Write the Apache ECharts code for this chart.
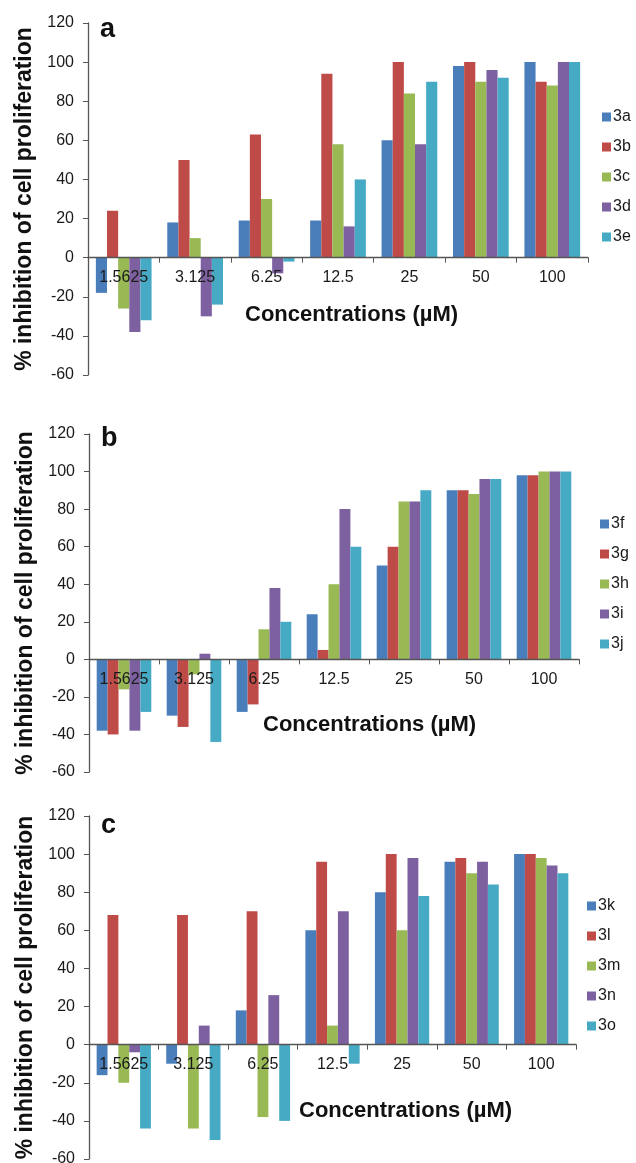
<!DOCTYPE html>
<html>
<head>
<meta http-equiv="Content-Type" content="text/html; charset=UTF-8">
<title>Inhibition of cell proliferation</title>
<script type="text/javascript" src="https://cdn.jsdelivr.net/npm/echarts@6/dist/echarts.min.js"></script>
<style>
  html, body { margin: 0; padding: 0; background: #fff; }
</style>
</head>
<body>
    <div id="main" style="width: 636px; height: 1163px;"></div>
    <script type="text/javascript">
        // concentrations (µM) on the x axis, same for every panel
        var categories = ['1.5625', '3.125', '6.25', '12.5', '25', '50', '100'];

        // panel a
        var namesA = ['3a', '3b', '3c', '3d', '3e'];
        var s3a = [-18, 18, 19, 19, 60, 98, 100];
        var s3b = [24, 50, 63, 94, 100, 100, 90];
        var s3c = [-26, 10, 30, 58, 84, 90, 88];
        var s3d = [-38, -30, -8, 16, 58, 96, 100];
        var s3e = [-32, -24, -2, 40, 90, 92, 100];

        // panel b
        var namesB = ['3f', '3g', '3h', '3i', '3j'];
        var s3f = [-38, -30, -28, 24, 50, 90, 98];
        var s3g = [-40, -36, -24, 5, 60, 90, 98];
        var s3h = [-16, -8, 16, 40, 84, 88, 100];
        var s3i = [-38, 3, 38, 80, 84, 96, 100];
        var s3j = [-28, -44, 20, 60, 90, 96, 100];

        // panel c
        var namesC = ['3k', '3l', '3m', '3n', '3o'];
        var s3k = [-16, -10, 18, 60, 80, 96, 100];
        var s3l = [68, 68, 70, 96, 100, 98, 100];
        var s3m = [-20, -44, -38, 10, 60, 90, 98];
        var s3n = [-4, 10, 26, 70, 98, 96, 94];
        var s3o = [-44, -50, -40, -10, 78, 84, 90];

        var yMin = -60, yMax = 120, yStep = 20;

        var colors = ['#4a7ebb', '#be4b48', '#98b954', '#7d60a0', '#46aac5'];
        var font = 'Liberation Sans, Arial, sans-serif';
        var axisColor = '#555';

        var panels = [
            { letter: 'a', names: namesA, data: [s3a, s3b, s3c, s3d, s3e],
              grid: { left: 88, top: 23, width: 500, height: 352 },
              legend: { left: 597, top: 104 }, xName: [357, 317], letterPos: [100, 16] },
            { letter: 'b', names: namesB, data: [s3f, s3g, s3h, s3i, s3j],
              grid: { left: 89, top: 434, width: 490, height: 338 },
              legend: { left: 595, top: 511 }, xName: [375, 727], letterPos: [101, 425] },
            { letter: 'c', names: namesC, data: [s3k, s3l, s3m, s3n, s3o],
              grid: { left: 89, top: 816, width: 487, height: 343 },
              legend: { left: 582, top: 893 }, xName: [411, 1113], letterPos: [101, 812] }
        ];

        var grids = [], xAxes = [], yAxes = [], series = [], legends = [], texts = [];

        panels.forEach(function (p, k) {
            var g = p.grid;
            grids.push({ left: g.left, top: g.top, width: g.width, height: g.height,
                         outerBoundsMode: 'none', containLabel: false });
            // lift the category axis (line, ticks and labels) up to the zero line
            var zeroLift = g.height * (0 - yMin) / (yMax - yMin);
            xAxes.push({
                type: 'category',
                gridIndex: k,
                data: categories,
                z: 10,
                offset: -zeroLift,
                axisLine: { onZero: false, lineStyle: { color: axisColor, width: 1.3 } },
                axisTick: { show: true, length: 5, lineStyle: { color: axisColor } },
                axisLabel: { margin: 12, fontSize: 16, color: '#1a1a1a', fontFamily: font }
            });
            yAxes.push({
                type: 'value',
                gridIndex: k,
                min: yMin,
                max: yMax,
                interval: yStep,
                name: '% inhibition of cell proliferation',
                nameLocation: 'middle',
                nameGap: 51,
                nameTextStyle: { fontSize: 23, fontWeight: 'bold', color: '#111', fontFamily: font },
                splitLine: { show: false },
                axisLine: { show: true, lineStyle: { color: axisColor, width: 1.3 } },
                axisTick: { show: true, length: 5, lineStyle: { color: axisColor } },
                axisLabel: { margin: 14, fontSize: 16, color: '#1a1a1a', fontFamily: font }
            });
            p.names.forEach(function (n, i) {
                series.push({
                    name: n,
                    type: 'bar',
                    xAxisIndex: k,
                    yAxisIndex: k,
                    data: p.data[i],
                    barGap: '0%',
                    barCategoryGap: '22%',
                    itemStyle: { color: colors[i] }
                });
            });
            legends.push({
                data: p.names,
                orient: 'vertical',
                left: p.legend.left,
                top: p.legend.top,
                itemWidth: 9,
                itemHeight: 9,
                itemGap: 14,
                icon: 'rect',
                textStyle: { fontSize: 16, color: '#1a1a1a', fontFamily: font, padding: [0, 0, 0, -3] }
            });
            texts.push({
                type: 'text',
                left: p.xName[0] - 112,
                top: p.xName[1] - 13,
                style: { text: 'Concentrations (\u00b5M)', font: 'bold 22px ' + font, fill: '#111' }
            });
            texts.push({
                type: 'text',
                left: p.letterPos[0],
                top: p.letterPos[1],
                style: { text: p.letter, font: 'bold 27px ' + font, fill: '#111' }
            });
        });

        var myChart = echarts.init(document.getElementById('main'));
        myChart.setOption({
            animation: false,
            color: colors,
            grid: grids,
            xAxis: xAxes,
            yAxis: yAxes,
            legend: legends,
            series: series,
            graphic: texts
        });
    </script>
</body>
</html>
